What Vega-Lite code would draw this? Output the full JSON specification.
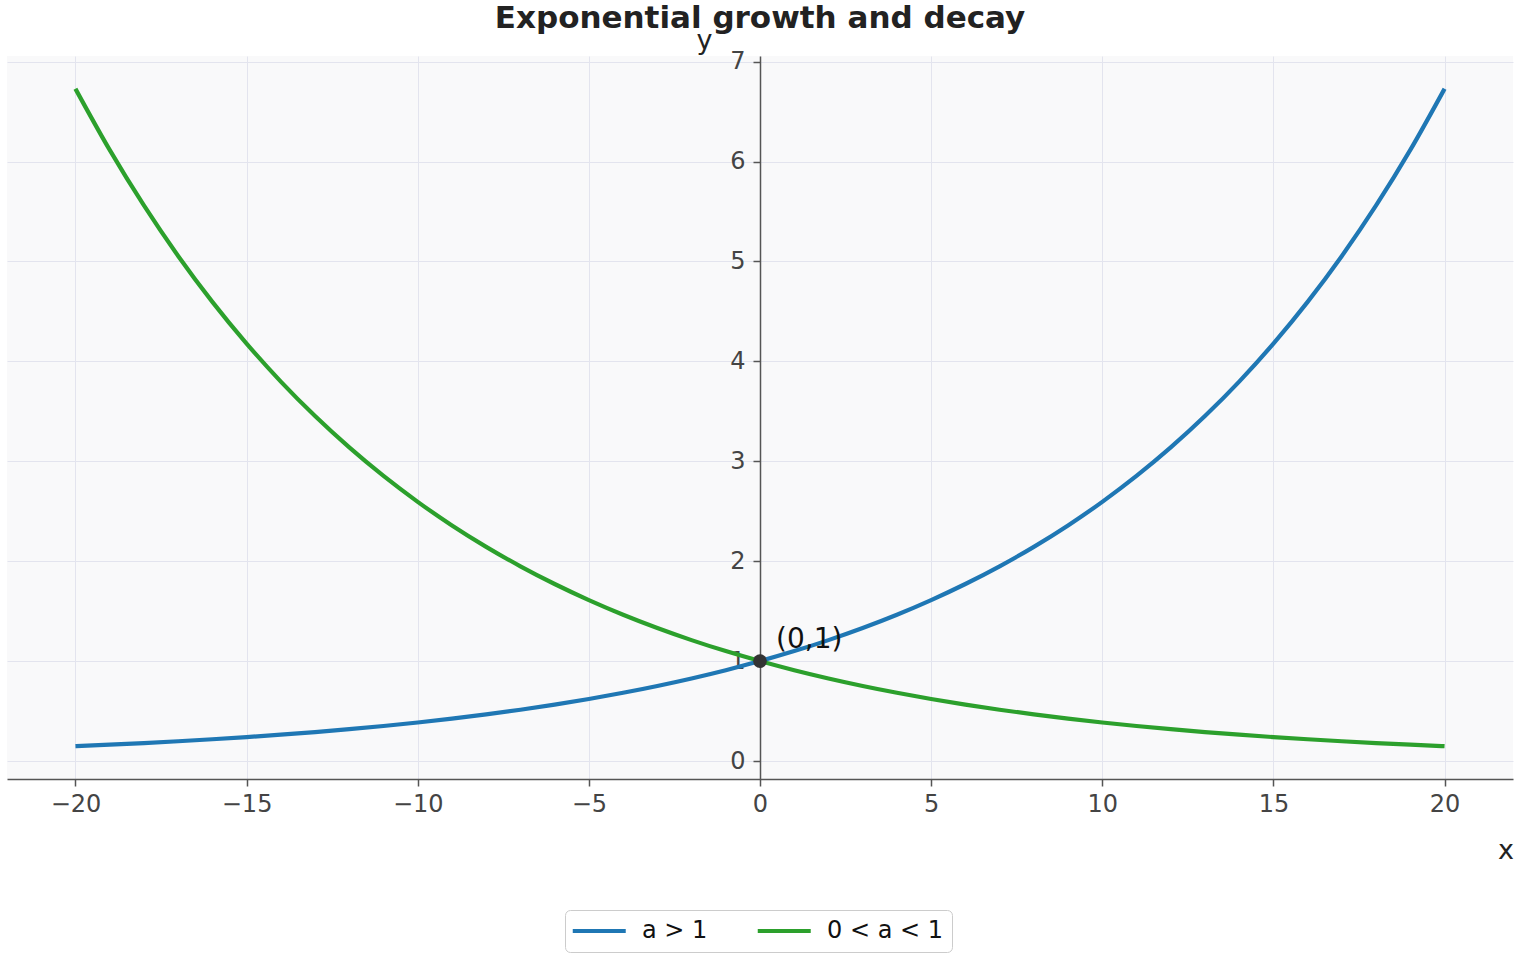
{
  "$schema": "https://vega.github.io/schema/vega-lite/v6.json",
  "width": 1506,
  "height": 723,
  "autosize": {"type": "none"},
  "padding": {"left": 7, "top": 56, "right": 7, "bottom": 181},
  "background": "white",
  "title": {
    "text": "Exponential growth and decay",
    "font": "DejaVu Sans",
    "fontSize": 31,
    "fontWeight": "bold",
    "color": "#222222",
    "anchor": "middle",
    "frame": "group",
    "baseline": "alphabetic",
    "offset": -33
  },
  "datasets": {
    "curves": [
      {"x": -20, "y": 0.148644, "series": "a > 1"},
      {"x": -19, "y": 0.163508, "series": "a > 1"},
      {"x": -18, "y": 0.179859, "series": "a > 1"},
      {"x": -17, "y": 0.197845, "series": "a > 1"},
      {"x": -16, "y": 0.217629, "series": "a > 1"},
      {"x": -15, "y": 0.239392, "series": "a > 1"},
      {"x": -14, "y": 0.263331, "series": "a > 1"},
      {"x": -13, "y": 0.289664, "series": "a > 1"},
      {"x": -12, "y": 0.318631, "series": "a > 1"},
      {"x": -11, "y": 0.350494, "series": "a > 1"},
      {"x": -10, "y": 0.385543, "series": "a > 1"},
      {"x": -9, "y": 0.424098, "series": "a > 1"},
      {"x": -8, "y": 0.466507, "series": "a > 1"},
      {"x": -7, "y": 0.513158, "series": "a > 1"},
      {"x": -6, "y": 0.564474, "series": "a > 1"},
      {"x": -5, "y": 0.620921, "series": "a > 1"},
      {"x": -4, "y": 0.683013, "series": "a > 1"},
      {"x": -3, "y": 0.751315, "series": "a > 1"},
      {"x": -2, "y": 0.826446, "series": "a > 1"},
      {"x": -1, "y": 0.909091, "series": "a > 1"},
      {"x": 0, "y": 1.0, "series": "a > 1"},
      {"x": 1, "y": 1.1, "series": "a > 1"},
      {"x": 2, "y": 1.21, "series": "a > 1"},
      {"x": 3, "y": 1.331, "series": "a > 1"},
      {"x": 4, "y": 1.4641, "series": "a > 1"},
      {"x": 5, "y": 1.61051, "series": "a > 1"},
      {"x": 6, "y": 1.771561, "series": "a > 1"},
      {"x": 7, "y": 1.948717, "series": "a > 1"},
      {"x": 8, "y": 2.143589, "series": "a > 1"},
      {"x": 9, "y": 2.357948, "series": "a > 1"},
      {"x": 10, "y": 2.593742, "series": "a > 1"},
      {"x": 11, "y": 2.853117, "series": "a > 1"},
      {"x": 12, "y": 3.138428, "series": "a > 1"},
      {"x": 13, "y": 3.452271, "series": "a > 1"},
      {"x": 14, "y": 3.797498, "series": "a > 1"},
      {"x": 15, "y": 4.177248, "series": "a > 1"},
      {"x": 16, "y": 4.594973, "series": "a > 1"},
      {"x": 17, "y": 5.05447, "series": "a > 1"},
      {"x": 18, "y": 5.559917, "series": "a > 1"},
      {"x": 19, "y": 6.115909, "series": "a > 1"},
      {"x": 20, "y": 6.7275, "series": "a > 1"},
      {"x": -20, "y": 6.7275, "series": "0 < a < 1"},
      {"x": -19, "y": 6.115909, "series": "0 < a < 1"},
      {"x": -18, "y": 5.559917, "series": "0 < a < 1"},
      {"x": -17, "y": 5.05447, "series": "0 < a < 1"},
      {"x": -16, "y": 4.594973, "series": "0 < a < 1"},
      {"x": -15, "y": 4.177248, "series": "0 < a < 1"},
      {"x": -14, "y": 3.797498, "series": "0 < a < 1"},
      {"x": -13, "y": 3.452271, "series": "0 < a < 1"},
      {"x": -12, "y": 3.138428, "series": "0 < a < 1"},
      {"x": -11, "y": 2.853117, "series": "0 < a < 1"},
      {"x": -10, "y": 2.593742, "series": "0 < a < 1"},
      {"x": -9, "y": 2.357948, "series": "0 < a < 1"},
      {"x": -8, "y": 2.143589, "series": "0 < a < 1"},
      {"x": -7, "y": 1.948717, "series": "0 < a < 1"},
      {"x": -6, "y": 1.771561, "series": "0 < a < 1"},
      {"x": -5, "y": 1.61051, "series": "0 < a < 1"},
      {"x": -4, "y": 1.4641, "series": "0 < a < 1"},
      {"x": -3, "y": 1.331, "series": "0 < a < 1"},
      {"x": -2, "y": 1.21, "series": "0 < a < 1"},
      {"x": -1, "y": 1.1, "series": "0 < a < 1"},
      {"x": 0, "y": 1.0, "series": "0 < a < 1"},
      {"x": 1, "y": 0.909091, "series": "0 < a < 1"},
      {"x": 2, "y": 0.826446, "series": "0 < a < 1"},
      {"x": 3, "y": 0.751315, "series": "0 < a < 1"},
      {"x": 4, "y": 0.683013, "series": "0 < a < 1"},
      {"x": 5, "y": 0.620921, "series": "0 < a < 1"},
      {"x": 6, "y": 0.564474, "series": "0 < a < 1"},
      {"x": 7, "y": 0.513158, "series": "0 < a < 1"},
      {"x": 8, "y": 0.466507, "series": "0 < a < 1"},
      {"x": 9, "y": 0.424098, "series": "0 < a < 1"},
      {"x": 10, "y": 0.385543, "series": "0 < a < 1"},
      {"x": 11, "y": 0.350494, "series": "0 < a < 1"},
      {"x": 12, "y": 0.318631, "series": "0 < a < 1"},
      {"x": 13, "y": 0.289664, "series": "0 < a < 1"},
      {"x": 14, "y": 0.263331, "series": "0 < a < 1"},
      {"x": 15, "y": 0.239392, "series": "0 < a < 1"},
      {"x": 16, "y": 0.217629, "series": "0 < a < 1"},
      {"x": 17, "y": 0.197845, "series": "0 < a < 1"},
      {"x": 18, "y": 0.179859, "series": "0 < a < 1"},
      {"x": 19, "y": 0.163508, "series": "0 < a < 1"},
      {"x": 20, "y": 0.148644, "series": "0 < a < 1"}
    ],
    "marker": [{"x": 0, "y": 1, "label": "(0,1)"}]
  },
  "encoding": {
    "x": {
      "field": "x",
      "type": "quantitative",
      "scale": {"domain": [-22, 22], "nice": false, "zero": false},
      "axis": {
        "title": "x",
        "values": [-20, -15, -10, -5, 0, 5, 10, 15, 20],
        "titleX": 1498.5,
        "titleY": 79,
        "titleAlign": "center",
        "titleBaseline": "alphabetic",
        "labelPadding": 6
      }
    },
    "y": {
      "field": "y",
      "type": "quantitative",
      "scale": {"domain": [-0.18, 7.056], "nice": false, "zero": false},
      "axis": {
        "title": "y",
        "values": [0, 1, 2, 3, 4, 5, 6, 7],
        "offset": -753,
        "titleAngle": 0,
        "titleX": -56,
        "titleY": -8,
        "titleAlign": "center",
        "titleBaseline": "alphabetic",
        "labelPadding": 8
      }
    }
  },
  "layer": [
    {
      "data": {"name": "curves"},
      "mark": {"type": "line", "strokeWidth": 4.2, "interpolate": "monotone"},
      "encoding": {
        "color": {
          "field": "series",
          "type": "nominal",
          "scale": {"domain": ["a > 1", "0 < a < 1"], "range": ["#1f77b4", "#2ca02c"]},
          "legend": {
            "title": null,
            "orient": "none",
            "direction": "horizontal",
            "legendX": 558,
            "legendY": 854,
            "symbolType": "M-1.5,0H4.5",
            "symbolSize": 312,
            "symbolStrokeWidth": 4.2,
            "labelFont": "DejaVu Sans",
            "labelFontSize": 24,
            "labelColor": "#111111",
            "labelOffset": 44,
            "columnPadding": 41,
            "padding": 9,
            "strokeColor": "#cccccc",
            "fillColor": "#ffffff",
            "cornerRadius": 5
          }
        }
      }
    },
    {
      "data": {"name": "marker"},
      "mark": {"type": "point", "filled": true, "color": "#333333", "size": 190, "opacity": 1},
      "encoding": {}
    },
    {
      "data": {"name": "marker"},
      "mark": {"type": "text", "align": "left", "baseline": "middle", "dx": 16, "dy": -21, "fontSize": 28, "font": "DejaVu Sans", "color": "#111111"},
      "encoding": {"text": {"field": "label"}}
    }
  ],
  "config": {
    "view": {"fill": "#f9f9fa", "stroke": null},
    "axis": {
      "grid": true,
      "gridColor": "#e3e4ee",
      "gridWidth": 1,
      "domainColor": "#555555",
      "domainWidth": 1.5,
      "tickColor": "#555555",
      "tickWidth": 1.5,
      "tickSize": 7,
      "labelFont": "DejaVu Sans",
      "labelFontSize": 24,
      "labelColor": "#444444",
      "titleFont": "DejaVu Sans",
      "titleFontSize": 27,
      "titleFontWeight": "normal",
      "titleColor": "#222222"
    }
  }
}
